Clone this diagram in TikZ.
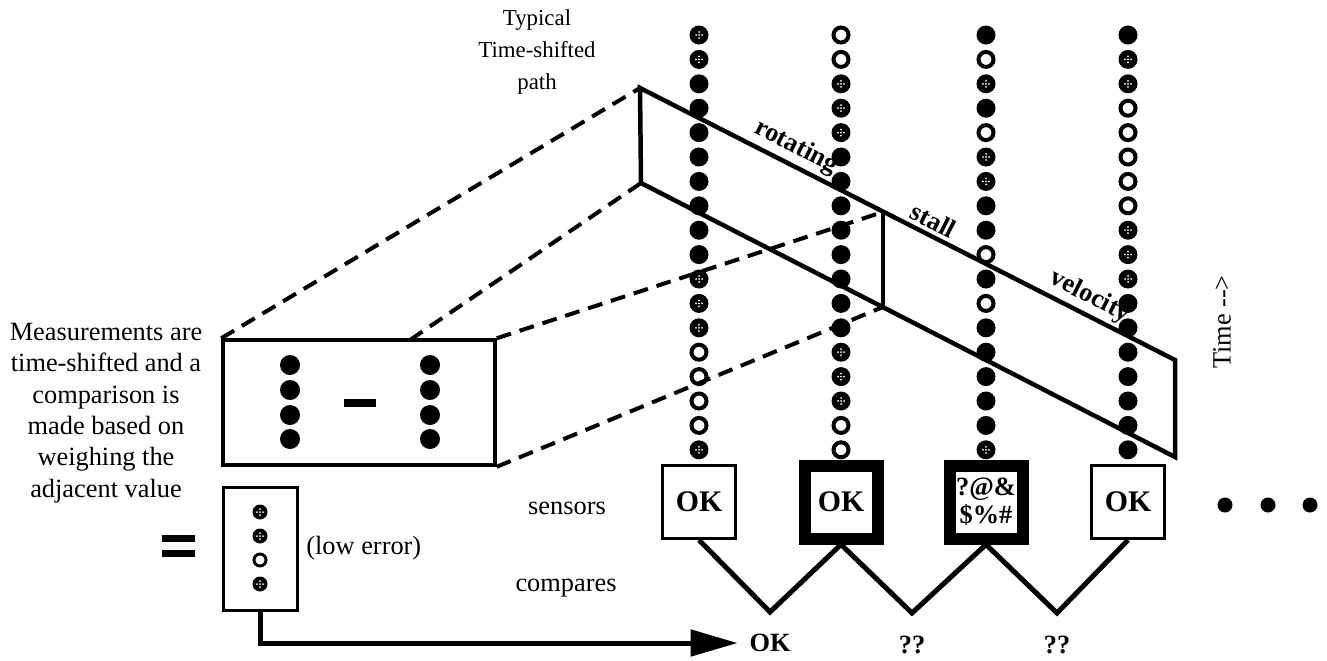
\documentclass[tikz,border=0pt]{standalone}
\usepackage{fontspec}
\setmainfont{Liberation Serif}
\usetikzlibrary{arrows.meta,positioning}

\tikzset{
  txt/.style={font=\fontsize{15}{18}\selectfont, inner sep=2pt},
  txtb/.style={font=\fontsize{15}{18}\selectfont\bfseries, inner sep=2pt},
  dotb/.style={circle, inner sep=0pt, minimum size=3.8mm, fill=black},
  doto/.style={circle, inner sep=0pt, minimum size=3.0mm, draw=black, line width=0.8mm, fill=white},
  dotg/.style={dotb, path picture={
      \foreach \dx/\dy in {0/0.6,0.6/0,0/-0.6,-0.6/0,0/0}
        \fill[white] ([shift={(\dx mm,\dy mm)}]path picture bounding box.center) circle (0.2mm);}},
  sensor/.style={draw, rectangle, minimum size=14.6mm, inner sep=0pt, line width=0.6mm,
      font=\fontsize{17}{17}\selectfont\bfseries},
  faulty/.style={sensor, line width=2.4mm},
  wire/.style={line width=1mm, line join=miter},
  frame/.style={line width=0.9mm, line join=miter},
  proj/.style={line width=0.8mm, dash pattern=on 3mm off 1.8mm},
}

\begin{document}
\begin{tikzpicture}[x=0.2mm, y=-0.2mm]
\useasboundingbox (0,0) rectangle (1327,660);

% one stream of readings above each sensor
\foreach \x/\seq in {699/{g,g,b,b,b,b,b,b,b,b,g,g,g,o,o,o,o,g},
                     841/{o,o,g,g,g,b,b,b,b,b,b,b,b,g,g,g,o,o},
                     986/{b,o,g,b,o,g,g,b,b,o,b,o,b,b,b,b,b,g},
                     1128/{b,g,g,o,o,o,o,o,g,g,g,b,b,b,b,b,b,b}}
  \foreach \t [count=\i] in \seq
    \node[dot\t] (d\x-\i) at (\x, 35+24.4*\i-24.4) {};

% time-shifted window
\coordinate (p1) at (640,88);
\coordinate (p2) at (641,183);
\coordinate (q1) at (883,212);
\coordinate (q2) at (883,307);
\coordinate (r1) at (1175,360);
\coordinate (r2) at (1175,457);
\draw[frame] (p1) -- node[pos=0.277, sloped, above, txtb] (lrot) {rotating}
                     node[pos=0.536, sloped, above, txtb] (lstall) {stall}
                     node[pos=0.826, sloped, above, txtb] (lvel) {velocity}
      (r1) -- (r2) -- (p2) -- cycle;
\draw[frame] (q1) -- (q2);

% sensors
\node[sensor] (s1) at (699,502) {OK};
\node[faulty] (s2) at (841,502) {OK};
\node[faulty, align=center, font=\fontsize{15}{16}\selectfont\bfseries] (s3) at (986,502) {?@\&\\\$\%\#};
\node[sensor] (s4) at (1128,502) {OK};

% compares
\coordinate (c1) at (770,612);
\coordinate (c2) at (912,613);
\coordinate (c3) at (1057,613);
\draw[wire] (s1.south) -- (c1) -- (s2.south) -- (c2) -- (s3.south) -- (c3) -- (s4.south);
\node[txtb] (k1) at (770,643) {OK};
\node[txtb] (k2) at (912,645) {??};
\node[txtb] (k3) at (1057,645) {??};

% difference box
\node[draw, line width=0.7mm, minimum width=54.4mm, minimum height=25mm, inner sep=0pt] (diff) at (359,402.5) {};
\foreach \y [count=\i] in {365,390,415,439} {
  \node[dotb, minimum size=4mm] (dl\i) at (290,\y) {};
  \node[dotb, minimum size=4mm] (dr\i) at (430,\y) {};
}
\fill (344,399) rectangle (376,407);

\coordinate (dmid) at (410,340);
\draw[proj] (diff.north west) -- (p1);
\draw[proj] (dmid) -- (p2);
\draw[proj] (diff.north east) -- (q1);
\draw[proj] (diff.south east) -- (q2);

% result
\fill (162,535) rectangle (195,542);
\fill (162,550) rectangle (195,557);
\node[draw, line width=0.6mm, minimum width=14.8mm, minimum height=24.6mm, inner sep=0pt] (res) at (260,548.5) {};
\node[dotg, minimum size=3mm] (e1) at (260,512) {};
\node[dotg, minimum size=3mm] (e2) at (260,536) {};
\node[doto, minimum size=2.4mm, line width=0.6mm] (e3) at (260,560) {};
\node[dotg, minimum size=3mm] (e4) at (260,584) {};
\node[txt, right=0.8mm of res] (lowerr) {(low error)};
\draw[wire, -{Triangle[length=9.4mm, width=5.2mm]}, shorten >=1.6mm] (res.south) |- (k1.west);

% labels
\node[txt, align=center, font=\fontsize{15}{6.28mm}\selectfont] (note) at (106,413)
  {Measurements are\\time-shifted and a\\comparison is\\made based on\\weighing the\\adjacent value};
\node[txt, align=center, font=\fontsize{13}{6.4mm}\selectfont] (typ) at (537,52) {Typical\\Time-shifted\\path};
\node[txt] (sens) at (567,508) {sensors};
\node[txt] (cmp) at (566,588) {compares};
\node[txt, rotate=90] (time) at (1222,322) {Time \mbox{-}\mbox{-}>};

% more sensors
\foreach \x in {1225,1268,1310}
  \fill (\x,505) circle (1.5mm);
\end{tikzpicture}
\end{document}
